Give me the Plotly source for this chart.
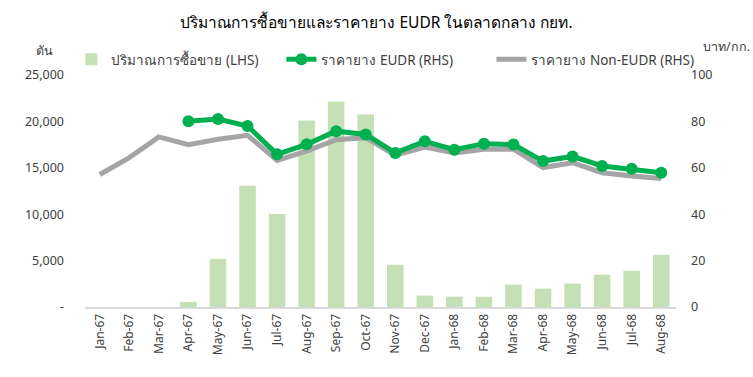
import plotly.graph_objects as go

months = ["Jan-67", "Feb-67", "Mar-67", "Apr-67", "May-67", "Jun-67", "Jul-67", "Aug-67",
          "Sep-67", "Oct-67", "Nov-67", "Dec-67", "Jan-68", "Feb-68", "Mar-68", "Apr-68",
          "May-68", "Jun-68", "Jul-68", "Aug-68"]
volume = [0, 0, 0, 550, 5180, 13060, 10010, 20100, 22150, 20750, 4550, 1230, 1120, 1100,
          2410, 1980, 2520, 3480, 3910, 5620]
price_eudr = [None, None, None, 80.1, 81.0, 78.0, 65.8, 70.1, 75.8, 74.4, 66.4, 71.4, 67.8,
              70.4, 70.0, 62.9, 64.9, 60.8, 59.6, 57.9]
price_non = [57.1, 64.4, 73.3, 70.0, 72.3, 74.0, 63.2, 67.2, 72.1, 73.0, 65.4, 68.9, 66.4,
             68.0, 68.0, 60.1, 62.2, 57.9, 56.5, 55.4]
left_ticks = [0, 5000, 10000, 15000, 20000, 25000]
left_ticktext = ["-", "5,000", "10,000", "15,000", "20,000", "25,000"]
right_ticks = [0, 20, 40, 60, 80, 100]

FONT = "Tahoma, 'Noto Sans', sans-serif"
TXT = "#404040"

fig = go.Figure()
fig.add_trace(go.Bar(x=months, y=volume, name="ปริมาณการซื้อขาย (LHS)",
                     marker=dict(color="#c5e0b4", line=dict(width=0)),
                     width=0.56, legendrank=1))
fig.add_trace(go.Scatter(x=months, y=price_non, name="ราคายาง Non-EUDR (RHS)", yaxis="y2",
                         mode="lines", line=dict(color="#a5a5a5", width=5),
                         legendrank=3))
fig.add_trace(go.Scatter(x=months, y=price_eudr, name="ราคายาง EUDR (RHS)", yaxis="y2",
                         mode="lines+markers", line=dict(color="#00b050", width=5),
                         marker=dict(size=12, color="#00b050"), legendrank=2))

fig.update_layout(
    width=753, height=377,
    margin=dict(l=85, r=77, t=75, b=70),
    paper_bgcolor="white", plot_bgcolor="white",
    font=dict(family=FONT, size=12, color=TXT),
    title=dict(text="ปริมาณการซื้อขายและราคายาง EUDR ในตลาดกลาง กยท.",
               x=0.5, xanchor="center", y=0.94, yanchor="middle",
               font=dict(size=15.5, color="#000000", family=FONT)),
    showlegend=True,
    legend=dict(orientation="h", x=-0.023, y=1.0, xanchor="left", yanchor="bottom",
                font=dict(size=13.5, color=TXT), bgcolor="rgba(0,0,0,0)",
                traceorder="normal", itemwidth=30, tracegroupgap=0,
                entrywidth=165, entrywidthmode="pixels"),
    bargap=0.44,
    xaxis=dict(type="category", range=[-0.5, 19.5], tickangle=-90, showgrid=False,
               showline=True, linecolor="#d9d9d9", linewidth=2, ticks="",
               tickfont=dict(size=12, color=TXT)),
    yaxis=dict(range=[0, 25000], tickvals=left_ticks, ticktext=left_ticktext,
               showgrid=False, zeroline=False, showline=False, ticks="",
               ticklabelstandoff=20, tickfont=dict(size=12.5, color=TXT)),
    yaxis2=dict(range=[0, 100], tickvals=right_ticks, overlaying="y", side="right",
                showgrid=False, zeroline=False, showline=False, ticks="",
                ticklabelstandoff=14, tickfont=dict(size=12.5, color=TXT)),
    annotations=[
        dict(text="ตัน", xref="paper", yref="paper", x=-0.068, y=1.105, showarrow=False,
             xanchor="center", yanchor="middle", font=dict(size=12.5, color=TXT)),
        dict(text="บาท/กก.", xref="paper", yref="paper", x=1.085, y=1.125, showarrow=False,
             xanchor="center", yanchor="middle", font=dict(size=12.5, color=TXT)),
    ],
)

fig.write_html("out.html", config={"displayModeBar": False},
               post_script="document.body.style.margin='0';")
